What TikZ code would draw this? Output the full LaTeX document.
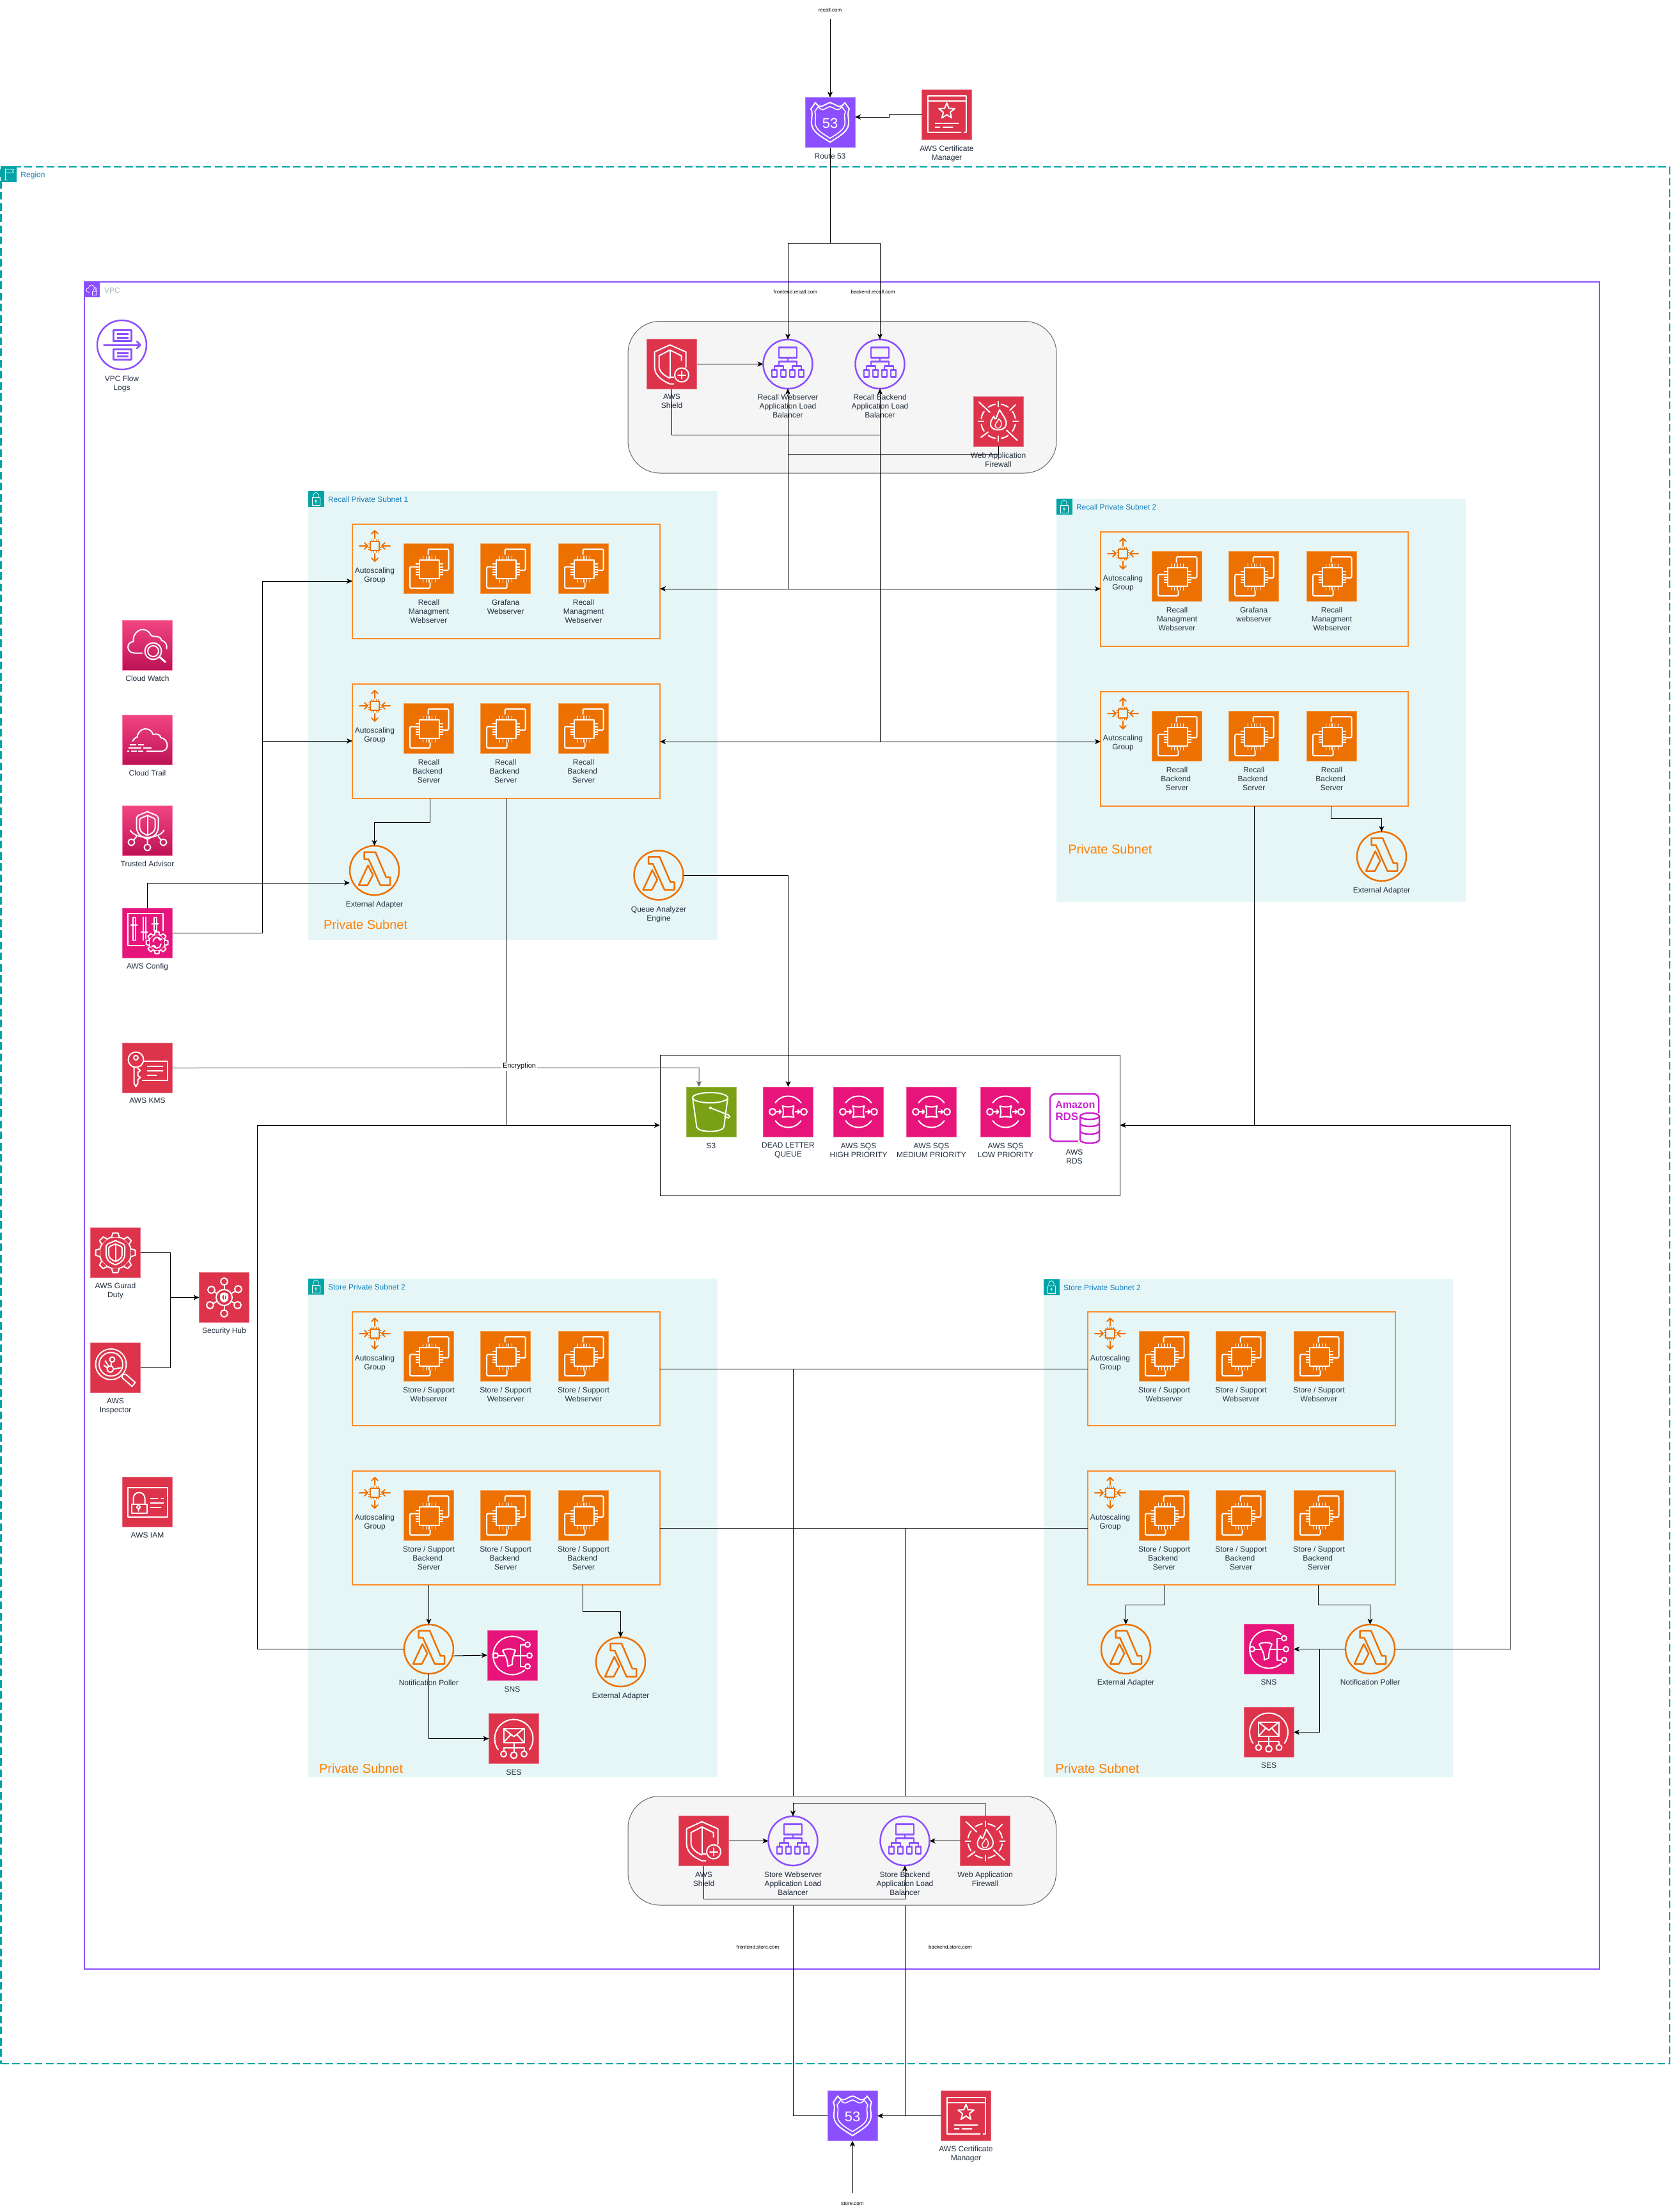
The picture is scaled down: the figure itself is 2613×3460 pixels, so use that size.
\documentclass[tikz,border=0pt]{standalone}
\usepackage{fontspec}
\setmainfont{Liberation Sans}
\usetikzlibrary{arrows.meta,calc}
\definecolor{awsorange}{HTML}{ED7100}
\definecolor{boxorange}{HTML}{FF8C28}
\definecolor{psorange}{HTML}{FF8000}
\definecolor{awspink}{HTML}{E7157B}
\definecolor{awsred}{HTML}{DD344C}
\definecolor{awsgreen}{HTML}{7AA116}
\definecolor{awspurple}{HTML}{8C4FFF}
\definecolor{awsmag}{HTML}{C925D1}
\definecolor{awsteal}{HTML}{00A4A6}
\definecolor{subfill}{HTML}{E6F6F7}
\definecolor{awstext}{HTML}{232F3E}
\definecolor{awsblue}{HTML}{147EBA}
\definecolor{vpcgray}{HTML}{AAB7B8}
\definecolor{gradtop}{HTML}{F34482}
\definecolor{gradbot}{HTML}{BC1356}
\definecolor{greyfill}{HTML}{F5F5F5}
\definecolor{greyline}{HTML}{666666}
\pgfdeclarelayer{cont}\pgfdeclarelayer{low}\pgfdeclarelayer{grey}
\pgfsetlayers{cont,low,grey,main}
\tikzset{
 ic/.style={rectangle,minimum size=39pt,inner sep=0pt,outer sep=0pt,fill=#1,draw=#1!70!white,line width=.5pt},
 icg/.style={rectangle,minimum size=39pt,inner sep=0pt,outer sep=0pt,top color=gradtop,bottom color=gradbot,draw=gradtop!70!white,line width=.5pt},
 rnd/.style={circle,minimum size=38.5pt,inner sep=0pt,outer sep=0pt,draw=#1,line width=1.25pt},
 glyphw/.style={white,line width=1pt,line cap=round,line join=round},
 lbl/.style={font=\fontsize{6}{7}\selectfont,text=awstext,align=center,inner sep=0pt,outer sep=0pt,anchor=north,execute at begin node={\rule{0pt}{4.4pt}}},
 small/.style={font=\fontsize{4}{5}\selectfont,text=black,inner sep=0pt,outer sep=0pt},
 grp/.style={font=\fontsize{6}{7}\selectfont,inner sep=0pt,outer sep=0pt,anchor=west},
 psub/.style={font=\fontsize{10}{12}\selectfont,text=psorange,inner sep=0pt,outer sep=0pt,anchor=west},
 cn/.style={draw=black,line width=.5pt},
 ar/.style={cn,-{Stealth[length=4.5pt,width=4pt,inset=1.2pt]}},
 arg/.style={draw=greyline,line width=.5pt,-{Stealth[length=4.5pt,width=4pt,inset=1.2pt]}},
 tagbox/.style={rectangle,minimum size=12.5pt,inner sep=0pt,outer sep=0pt,fill=#1},
 subn/.style={fill=subfill},
 asgb/.style={draw=boxorange,line width=1pt},
}
\newcommand{\boxn}[6]{\pgfmathsetmacro\bw{(#5-#3)*.5}\pgfmathsetmacro\bh{(#6-#4)*.5}%
 \node[#2,rectangle,minimum width=\bw pt,minimum height=\bh pt,inner sep=0pt,outer sep=0pt] (#1) at ({(#3+#5)/2},{(#4+#6)/2}) {};}
\newcommand{\ico}[4]{\node[#2] (#1) at (#3) {};\begin{scope}[shift={(#1.center)},glyphw]#4\end{scope}}
\newcommand{\lam}[2]{\node[rnd=awsorange] (#1) at (#2) {};\begin{scope}[shift={(#1.center)},awsorange,line width=1.25pt,line join=round]\gLam\end{scope}}
\newcommand{\alb}[2]{\node[rnd=awspurple] (#1) at (#2) {};\begin{scope}[shift={(#1.center)},awspurple,line width=1.25pt,line join=round]\gAlb\end{scope}}
\newcommand{\lbl}[4]{\node[lbl] (#1) at ({#2},{#3-4.4}) {#4};}
\newcommand{\Bk}{Backend\kern1.7pt}
% glyphs
\newcommand{\gEC}{%
 \draw (-15,-13) rectangle (16,16);
 \draw[rounded corners=1pt] (-1,-22)--(-1,-30)--(31,-30)--(31,3)--(22,3);
 \draw[rounded corners=1pt] (-19,-2.5)--(-29.5,-2.5)--(-29.5,31)--(2,31)--(2,23);
 \foreach \t in {-9,-4,.5,5,10}{\draw[line width=.7pt] (\t,-13)--(\t,-19) (\t,16)--(\t,22);}
 \foreach \t in {-7,-2,2,6,10}{\draw[line width=.7pt] (-15,\t)--(-20,\t) (16,\t)--(22,\t);}
}
\newcommand{\gAsg}{%
 \draw[line width=.9pt] (-7,-7) rectangle (7,7);
 \foreach \t in {-5,-2,2,5}{\draw[line width=.5pt] (\t,-7)--(\t,-10) (\t,7)--(\t,10) (-7,\t)--(-10,\t) (7,\t)--(10,\t);}
 \draw (0,-12)--(0,-24) (-5,-19)--(0,-24)--(5,-19);
 \draw (0,12)--(0,24) (-5,19)--(0,24)--(5,19);
 \draw (-24,0)--(-11,0) (-16,-5)--(-11,0)--(-16,5);
 \draw (24,0)--(11,0) (16,-5)--(11,0)--(16,5);
}
\newcommand{\gLam}{%
 \draw (-16,-28.7)--(1.5,-28.7)--(18.4,10.7)--(24.5,10.7)--(24.5,23)--(9.2,23)--(-9.2,-17.7)--(-16,-17.7)--cycle;
 \draw (-10,-8)--(-2.3,7)--(-10.7,23)--(-24.5,23)--cycle;
}
\newcommand{\gAlb}{%
 \draw (-14,-26) rectangle (14,-10);
 \draw (0,-10)--(0,-4) (-14,3)--(-14,-4)--(14,-4)--(14,3);
 \draw (-21,9)--(-21,3)--(-7,3)--(-7,9) (7,9)--(7,3)--(21,3)--(21,9);
 \foreach \t in {-21,-7,7,21}{\draw (\t-4,9) rectangle (\t+4,20);}
}
\newcommand{\shpath}{(0,-1) -- (.85,-.72) -- (1,-.55) -- (1,.1) .. controls (1,.3) and (.96,.42) .. (.85,.55) -- (.8,.62) .. controls (.6,.8) and (.3,.9) .. (0,1) .. controls (-.3,.9) and (-.6,.8) .. (-.8,.62) -- (-.85,.55) .. controls (-.96,.42) and (-1,.3) .. (-1,.1) -- (-1,-.55) -- (-.85,-.72) -- cycle}
\newcommand{\shld}[1]{\begin{scope}[#1]\draw \shpath;\begin{scope}[scale=.72]\draw \shpath;\end{scope}\draw (0,-.72)--(0,.72);\end{scope}}
\newcommand{\gRoute}{%
 \draw (-23,-31) .. controls (-21,-27) and (-15,-23) .. (-11,-26) .. controls (-7,-28) and (-4,-30) .. (0,-31) .. controls (4,-30) and (7,-28) .. (11,-26) .. controls (15,-23) and (21,-27) .. (23,-31) -- (30,-21) .. controls (26,-14) and (30,-4) .. (29,2) .. controls (28,16) and (10,24) .. (0,31) .. controls (-10,24) and (-28,16) .. (-29,2) .. controls (-30,-4) and (-26,-14) .. (-30,-21) -- cycle;
 \begin{scope}[scale=.8]\draw[line width=.8pt] (-23,-31) .. controls (-21,-27) and (-15,-23) .. (-11,-26) .. controls (-7,-28) and (-4,-30) .. (0,-31) .. controls (4,-30) and (7,-28) .. (11,-26) .. controls (15,-23) and (21,-27) .. (23,-31) -- (30,-21) .. controls (26,-14) and (30,-4) .. (29,2) .. controls (28,16) and (10,24) .. (0,31) .. controls (-10,24) and (-28,16) .. (-29,2) .. controls (-30,-4) and (-26,-14) .. (-30,-21) -- cycle;\end{scope}
 \path (0,1) node[text=white,inner sep=0pt,font=\fontsize{11}{12}\selectfont] {53};
}
\newcommand{\gCert}{%
 \draw (22,28)--(-30,28)--(-30,-29)--(30,-29)--(30,28)--(27,28);
 \draw (-30,-21)--(30,-21);
 \draw (0,-18)--(3.3,-9.5)--(12.4,-9)--(5.3,-3.3)--(7.6,5.5)--(0,.5)--(-7.6,5.5)--(-5.3,-3.3)--(-12.4,-9)--(-3.3,-9.5)--cycle;
 \draw (-18,14)--(18,14) (-18,20)--(-11,20) (-6,20)--(9,20);
}
\newcommand{\gShield}{%
 \draw (15,-6)--(15,-13)--(-3,-22)--(-20,-13)--(-20,3) .. controls (-20,12) and (-12,18) .. (-3,22);
 \draw (22,5)--(22,-19)--(-3,-30)--(-27,-19)--(-27,4) .. controls (-27,18) and (-15,26) .. (-3,31) -- (3,31);
 \draw (-3,-22)--(-3,20) -- (3,20);
 \draw[fill=awsred] (15.5,17) circle (11);
 \draw (15.5,11)--(15.5,23) (9.5,17)--(21.5,17);
}
\newcommand{\gWaf}{%
 \foreach \s in {10,55,100,145,190,235,280,325}{\draw (\s:27) arc (\s:\s+25:27);}
 \draw (0,-31)--(0,-23) (0,31)--(0,23) (-31,0)--(-23,0) (31,0)--(23,0);
 \draw (-30,-30)--(-13,-14) (13,14)--(30,30) (27,-26)--(18,-17) (-27,25)--(-16,17);
 \draw (2,-18) .. controls (8,-8) and (14,-2) .. (12,6) .. controls (10,16) and (-10,16) .. (-12,6) .. controls (-13,0) and (-9,-4) .. (-7,-8) .. controls (-6,-3) and (-4,-3) .. (-3,-5) .. controls (-2,-9) and (0,-13) .. (2,-18) -- cycle;
 \draw[line width=.7pt] (1,-4) .. controls (5,0) and (6,4) .. (4,8) .. controls (2,12) and (-4,12) .. (-5,7) .. controls (-5,4) and (-2,2) .. (1,-4);
}
\newcommand{\gCW}{%
 \draw (-8,12)--(-20,12) .. controls (-33,12) and (-34,-5) .. (-22,-6) .. controls (-24,-20) and (-8,-32) .. (3,-20) .. controls (6,-14) and (8,-14) .. (12,-14) .. controls (20,-14) and (22,-10) .. (22,-8) .. controls (28,-6) and (31,-2) .. (30,5);
 \draw (9,9) circle (13) (9,9) circle (8.5);
 \draw[line width=1.5pt] (19,18)--(28,26);
}
\newcommand{\gCT}{%
 \draw (-23,2) .. controls (-20,-3) and (-17,-4) .. (-16,-4) .. controls (-14,-20) and (5,-21) .. (9,-8) .. controls (15,-10) and (20,-8) .. (21,-3) .. controls (32,-2) and (36,16) .. (23,18) -- (-1,18);
 \draw[line width=.8pt] (-27,8)--(-18,8) (-14,8)--(-6,8) (-29,13)--(-10,13) (-6,13)--(6,13) (-31,18)--(-29,18) (-25,18)--(-17,18) (-14,18)--(-7,18);
}
\newcommand{\gTA}{%
 \shld{shift={(0,-8.5)},xscale=17,yscale=21.5}
 \draw (-27,-1) .. controls (-18,14) and (18,14) .. (26,-1);
 \draw (-25,18) circle (5) (0,26) circle (5) (25,18) circle (5);
 \draw (0,12)--(0,21) (-17,9)--(-21,14) (17,9)--(21,14);
}
\newcommand{\gCfg}{%
 \draw (24,-4)--(24,-31)--(-31,-31)--(-31,19)--(-5,19);
 \draw (-23,-25)--(-23,11)--(-19,11)--(-19,-25)--cycle;
 \draw (-7,-25)--(-7,11) (-3,-25)--(-3,9);
 \draw (10,-25)--(10,-4)--(14,-4)--(14,-25)--cycle;
 \draw (-26,-13)--(-16,-13) (-10,-2)--(0,-2) (7,-15)--(17,-15);
 \begin{scope}[shift={(15,15)}]
 \draw (0,0) circle (13);
 \foreach \a in {0,45,...,315}{\begin{scope}[rotate=\a]\draw[fill=awspink] (-4,-12.5)--(-3,-17)--(3,-17)--(4,-12.5);\end{scope}}
 \draw (-6,-2) arc (180:320:6.3) (6,2) arc (0:140:6.3);
 \draw (2,-7)--(5,-4)--(8,-6) (-2,7)--(-5,4)--(-8,6);
 \end{scope}
}
\newcommand{\gKMS}{%
 \draw (-18,-13) circle (12) (-18,-16) circle (3.5);
 \draw (-21,-1)--(-21,24)--(-18,29)--(-15,24)--(-15,18)--(-11,15)--(-15,12)--(-15,7)--(-11,4)--(-15,1);
 \draw (-6,-11)--(31,-11)--(31,19)--(-8,19);
 \draw (0,-3)--(24,-3) (0,4)--(24,4) (0,11)--(14,11);
}
\newcommand{\gGD}{%
 \draw (0,0) circle (25);
 \foreach \a in {0,45,...,315}{\begin{scope}[rotate=\a]\draw[fill=awsred] (-6,-24.5)--(-4,-31)--(4,-31)--(6,-24.5);\end{scope}}
 \shld{shift={(0,0)},xscale=14.5,yscale=19}
}
\newcommand{\gInsp}{%
 \draw (-7,-5.5) circle (24) (-7,-5.5) circle (18.5);
 \draw[line width=1pt] (10,11)--(11,16)--(26,29)--(31,23)--(16,10)--cycle;
 \draw (-5,-13) circle (4) (-8,2) circle (5);
 \draw (-6,-9)--(-7,-3) (-3,2)--(8,0) (-13,0)--(-18,-4) (-11,-3)--(-16,-11);
}
\newcommand{\gHub}{%
 \draw (0,0) circle (12.5);
 \shld{shift={(0,0)},xscale=5.5,yscale=7}
 \foreach \x/\y/\u/\v in {0/-25/0/-12.5,-20/-12/-11/-6,22/-13/11/-6,-22/12/-11/6,21/12/11/6,0/25/0/12.5}{\draw (\x,\y) circle (5.5);\draw (\u,\v)--({\x+(\u-\x)*.45},{\y+(\v-\y)*.45});}
}
\newcommand{\gIAM}{%
 \draw (-31,-23) rectangle (31,23);
 \draw (-25,3) rectangle (-1,17);
 \draw (-22,3)--(-22,-6) arc (180:360:9)--(-4,3);
 \draw (-14,8) circle (2.5) (-14,10.5)--(-14,14);
 \draw (5,-6)--(16,-6) (22,-6)--(25,-6) (5,1)--(25,1) (5,8)--(21,8);
}
\newcommand{\gS}{%
 \draw (-1.5,-22) ellipse (27.5 and 8);
 \draw (-29,-22)--(-22.5,24) .. controls (-20,33) and (17,33) .. (20,24) -- (26,-22);
 \draw (-1,-6)--(27,5) .. controls (31,8) and (28,11) .. (24,9) -- (21,7);
 \draw[fill=white] (-1,-6) circle (1.5);
}
\newcommand{\gSQS}{%
 \draw (215:24.5) arc (215:325:24.5) (35:24.5) arc (35:145:24.5);
 \draw (-24.5,0) circle (5) (24.5,0) circle (5);
 \draw (-9,-9) .. controls (-3,-7) and (3,-7) .. (9,-9) .. controls (7,-3) and (7,3) .. (9,9) .. controls (3,7) and (-3,7) .. (-9,9) .. controls (-7,3) and (-7,-3) .. (-9,-9) -- cycle;
 \draw (-18,0)--(-11,0) (-14,-3)--(-11,0)--(-14,3) (11,0)--(18,0) (15,-3)--(18,0)--(15,3);
}
\newcommand{\gSNS}{%
 \draw (-51:30) arc (-51:-310:30);
 \draw[fill=awspink] (-26,0) circle (4);
 \draw (-22,0)--(-13,0);
 \draw (-15,-8) .. controls (-10,-11) and (0,-11) .. (5,-8) .. controls (3,-2) and (0,2) .. (0,14) -- (-7,17) .. controls (-7,4) and (-12,0) .. (-15,-8) -- cycle;
 \draw (3,0)--(23,0) (19,-17)--(13,-17)--(13,17)--(19,17);
 \draw[fill=awspink] (24,-17) circle (4) (27,0) circle (4) (24,17) circle (4);
}
\newcommand{\gSES}{%
 \draw (145:30) arc (145:395:30);
 \draw (-16,-16) rectangle (16,6);
 \draw (-16,-16)--(0,-3)--(16,-16) (-16,6)--(-5,-6) (16,6)--(5,-6);
 \draw (0,6)--(0,21) (-16,19)--(-16,14)--(16,14)--(16,19);
 \draw (-16,24) circle (4.5) (0,26) circle (5) (16,24) circle (4.5);
}
\newcommand{\gFlow}{%
 \draw (-13,-23) rectangle (15,-6);
 \draw (-13,7) rectangle (15,23);
 \draw (-8,-17)--(10,-17) (-8,-11)--(10,-11) (-8,13)--(10,13) (-8,18)--(10,18);
 \draw (-29,0)--(29,0) (23,-6)--(29,0)--(23,6);
}
\newcommand{\gLock}{\begin{scope}[white,line width=.35pt]\draw (-6,-2) rectangle (6,10);\draw (-4,-2)--(-4,-6) arc (180:360:4)--(4,-2);\draw (0,3) circle (1.3) (0,4.3)--(0,7);\end{scope}}
\newcommand{\asg}[8]{%
 % name x1 y1 x2 y2 lab1 lab2 lab3
 \begin{pgfonlayer}{cont}\boxn{#1}{asgb}{#2}{#3}{#4}{#5}\end{pgfonlayer}
 \coordinate (#1-g) at ($(#2,#3)+(35,34)$);
 \begin{scope}[shift={(#1-g)},awsorange,line width=1pt,line cap=round,line join=round]\gAsg\end{scope}
 \node[lbl] (#1-gl) at ($(#2,#3)+(35,67.3)$) {Autoscaling\\Group};
 \ico{#1-a}{ic=awsorange}{$(#2,#3)+(119.5,69)$}{\gEC}
 \ico{#1-b}{ic=awsorange}{$(#2,#3)+(239.7,69)$}{\gEC}
 \ico{#1-c}{ic=awsorange}{$(#2,#3)+(361.5,69)$}{\gEC}
 \node[lbl] (#1-al) at ($(#2,#3)+(119.5,117.5)$) {#6};
 \node[lbl] (#1-bl) at ($(#2,#3)+(239.7,117.5)$) {#7};
 \node[lbl] (#1-cl) at ($(#2,#3)+(361.5,117.5)$) {#8};
}
\newcommand{\subnet}[7]{%
 % name x1 y1 x2 y2 title
 \begin{pgfonlayer}{cont}\boxn{#1}{subn}{#2}{#3}{#4}{#5}
 \node[tagbox=awsteal,anchor=north west] (#1-t) at (#1.north west) {};
 \begin{scope}[shift={(#1-t.center)}]\gLock\end{scope}
 \node[grp,text=awsblue] (#1-tt) at ($(#1.north west)+(31.5,13.5)$) {#6};
 \node[psub] (#1-ps) at #7 {Private Subnet};
 \end{pgfonlayer}
}
\begin{document}
\begin{tikzpicture}[x=.5pt,y=-.5pt]
\useasboundingbox (0,0) rectangle (2613,3460);
\begin{pgfonlayer}{cont}
\fill[white] (0,0) rectangle (2613,3460);
\boxn{region}{draw=awsteal,line width=1.3pt,dash pattern=on 6pt off 2.75pt}{1.5}{261}{2611}{3228}
\node[tagbox=awsteal,anchor=north west] (region-t) at (1,260) {};
\begin{scope}[shift={(region-t.center)},white,line width=.35pt]\draw (-5,-9)--(-5,9) (-8,9)--(-2,9) (-5,-8)--(8,-8)--(6,-5)--(8,-2)--(-5,-2);\end{scope}
\node[grp,text=awsblue] (region-tt) at (32.5,274) {Region};
\boxn{vpc}{draw=awspurple,line width=1pt}{131.5}{440.5}{2501}{3080}
\node[tagbox=awspurple,anchor=north west] (vpc-t) at (131,440) {};
\begin{scope}[shift={(vpc-t.center)},white,line width=.35pt]\draw (-4,5) .. controls (-10,5) and (-10,-2) .. (-5,-2) .. controls (-5,-8) and (3,-8) .. (4,-3) .. controls (8,-3) and (9,0) .. (8,2);\draw (1,3) rectangle (8,9);\draw (2.5,3)--(2.5,1) arc (180:360:2)--(6.5,3);\end{scope}
\node[grp,text=vpcgray] (vpc-tt) at (163,454) {VPC};
\boxn{grey1}{fill=greyfill,draw=greyline,line width=.5pt,rounded corners=25pt}{982}{502.5}{1652}{740}
\end{pgfonlayer}
\begin{pgfonlayer}{grey}
\boxn{grey2}{fill=greyfill,draw=greyline,line width=.5pt,rounded corners=25pt}{982}{2809.5}{1651.5}{2980}
\end{pgfonlayer}
\subnet{sr1}{481.5}{768}{1121.5}{1470}{Recall Private Subnet 1}{(506,1446)}
\subnet{sr2}{1651.5}{780}{2291.5}{1410.5}{Recall Private Subnet 2}{(1670.3,1328)}
\subnet{ss1}{481.5}{2000}{1121.5}{2780}{Store Private Subnet 2}{(499,2766)}
\subnet{ss2}{1631.5}{2001}{2271.5}{2780}{Store Private Subnet 2}{(1650.3,2766)}
\asg{r1a}{551}{820}{1032}{999}{Recall\\Managment\\Webserver}{Grafana\\Webserver}{Recall\\Managment\\Webserver}
\asg{r1b}{551}{1070}{1032}{1249}{Recall\\\Bk\\Server}{Recall\\\Bk\\Server}{Recall\\\Bk\\Server}
\asg{r2a}{1721}{832}{2202}{1011}{Recall\\Managment\\Webserver}{Grafana\\webserver}{Recall\\Managment\\Webserver}
\asg{r2b}{1721}{1082}{2202}{1261}{Recall\\\Bk\\Server}{Recall\\\Bk\\Server}{Recall\\\Bk\\Server}
\asg{s1a}{551}{2052}{1032}{2230}{Store / Support\\Webserver}{Store / Support\\Webserver}{Store / Support\\Webserver}
\asg{s1b}{551}{2301}{1032}{2479}{Store / Support\\\Bk\\Server}{Store / Support\\\Bk\\Server}{Store / Support\\\Bk\\Server}
\asg{s2a}{1701}{2052}{2182}{2230}{Store / Support\\Webserver}{Store / Support\\Webserver}{Store / Support\\Webserver}
\asg{s2b}{1701}{2301}{2182}{2479}{Store / Support\\\Bk\\Server}{Store / Support\\\Bk\\Server}{Store / Support\\\Bk\\Server}
% top
\node[small] (recall) at (1298,16) {recall.com};
\coordinate (recalle) at (1298,30);
\ico{r53a}{ic=awspurple}{1298,191.5}{\gRoute}
\lbl{r53al}{1298}{244}{Route 53}
\ico{certa}{ic=awsred}{1480.5,179}{\gCert}
\lbl{certal}{1480.5}{232}{AWS Certificate\\Manager}
\node[small] (frec) at (1244,456.5) {frontend.recall.com};
\node[small] (brec) at (1365,456.5) {backend.recall.com};
\ico{shda}{ic=awsred}{1050.5,569.5}{\gShield}
\lbl{shdal}{1050.5}{621}{AWS\\Shield}
\alb{albr1}{1232,569.5}
\lbl{albr1l}{1232}{621}{Recall Webserver\\Application Load\\Balancer}
\alb{albr2}{1376,569.5}
\lbl{albr2l}{1376}{621}{Recall Backend\\Application Load\\Balancer}
\ico{wafa}{ic=awsred}{1561,659}{\gWaf}
\lbl{wafal}{1561}{712}{Web Application\\Firewall}
\node[rnd=awspurple] (flow) at (190.5,539.5) {};
\begin{scope}[shift={(flow.center)},awspurple,line width=1.25pt,line join=round]\gFlow\end{scope}
\lbl{flowl}{190.5}{592}{VPC Flow\\Logs}
% left column
\ico{cw}{icg}{230.5,1009.5}{\gCW}
\lbl{cwl}{230.5}{1061}{Cloud Watch}
\ico{ct}{icg}{230.5,1157}{\gCT}
\lbl{ctl}{230.5}{1209.5}{Cloud Trail}
\ico{ta}{icg}{230.5,1299.5}{\gTA}
\lbl{tal}{230.5}{1351.5}{Trusted Advisor}
\ico{cfg}{ic=awspink}{230.5,1459.5}{\gCfg}
\lbl{cfgl}{230.5}{1511}{AWS Config}
\ico{kms}{ic=awsred}{230.5,1670.5}{\gKMS}
\lbl{kmsl}{230.5}{1721}{AWS KMS}
\ico{gd}{ic=awsred}{180.5,1959.5}{\gGD}
\lbl{gdl}{180.5}{2011.5}{AWS Gurad\\Duty}
\ico{insp}{ic=awsred}{180.5,2139.5}{\gInsp}
\lbl{inspl}{180.5}{2191.5}{AWS\\Inspector}
\ico{hub}{ic=awsred}{350.5,2029.5}{\gHub}
\lbl{hubl}{350.5}{2081.5}{Security Hub}
\ico{iam}{ic=awsred}{230.5,2349.5}{\gIAM}
\lbl{iaml}{230.5}{2401}{AWS IAM}
% lambdas recall
\lam{ext1}{585.5,1361.5}
\lbl{ext1l}{585.5}{1414}{External Adapter}
\lam{qa}{1030,1369}
\lbl{qal}{1030}{1421.7}{Queue Analyzer\\Engine}
\lam{ext2}{2160.5,1339.5}
\lbl{ext2l}{2160.5}{1392}{External Adapter}
% data
\begin{pgfonlayer}{cont}\boxn{data}{draw=black,line width=.5pt}{1032}{1650}{1751.5}{1870}\end{pgfonlayer}
\ico{s3}{ic=awsgreen}{1112,1739}{\gS}
\lbl{s3l}{1112}{1792}{S3}
\ico{dlq}{ic=awspink}{1232.5,1739}{\gSQS}
\lbl{dlql}{1232.5}{1792}{DEAD LETTER\\QUEUE}
\ico{sqh}{ic=awspink}{1342.5,1739}{\gSQS}
\lbl{sqhl}{1342.5}{1792}{AWS SQS\\HIGH PRIORITY}
\ico{sqm}{ic=awspink}{1456.5,1739}{\gSQS}
\lbl{sqml}{1456.5}{1792}{AWS SQS\\MEDIUM PRIORITY}
\ico{sql}{ic=awspink}{1572.5,1739}{\gSQS}
\lbl{sqll}{1572.5}{1792}{AWS SQS\\LOW PRIORITY}
\node[rectangle,minimum size=39pt,inner sep=0pt,outer sep=0pt] (rds) at (1680,1749) {};
\begin{scope}[shift={(rds.center)},awsmag,line width=1.25pt,line join=round]
 \draw[rounded corners=4pt] (6,36)--(-38,36)--(-38,-38)--(38,-38)--(38,-8);
 \node[anchor=west,inner sep=0pt,text=awsmag,font=\fontsize{8}{9}\selectfont\bfseries] (rdst1) at (-31,-21) {Amazon};
 \node[anchor=west,inner sep=0pt,text=awsmag,font=\fontsize{8.5}{9}\selectfont\bfseries] (rdst2) at (-31,-2) {RDS};
 \draw (9,-3) arc (180:360:15 and 5) -- (39,34) arc (0:180:15 and 5) -- cycle;
 \draw (9,-3) arc (180:0:15 and 5);
 \draw (9,8) arc (180:0:15 and 5) (9,20) arc (180:0:15 and 5);
\end{scope}
\lbl{rdsl}{1680}{1802}{AWS\\RDS}
% store left
\lam{p1}{670.5,2579.5}
\lbl{p1l}{670.5}{2631.7}{Notification Poller}
\ico{sns1}{ic=awspink}{801,2589.5}{\gSNS}
\lbl{sns1l}{801}{2641.7}{SNS}
\ico{ses1}{ic=awsred}{803.5,2719.5}{\gSES}
\lbl{ses1l}{803.5}{2771.7}{SES}
\lam{ext3}{970.5,2599.5}
\lbl{ext3l}{970.5}{2651.7}{External Adapter}
% store right
\lam{ext4}{1760.5,2579.5}
\lbl{ext4l}{1760.5}{2631}{External Adapter}
\ico{sns2}{ic=awspink}{1984,2579.5}{\gSNS}
\lbl{sns2l}{1984}{2631}{SNS}
\ico{ses2}{ic=awsred}{1984,2709.5}{\gSES}
\lbl{ses2l}{1984}{2761.5}{SES}
\lam{p2}{2142.5,2579.5}
\lbl{p2l}{2142.5}{2631}{Notification Poller}
% store bottom
\ico{shdb}{ic=awsred}{1100.5,2879.5}{\gShield}
\lbl{shdbl}{1100.5}{2932}{AWS\\Shield}
\alb{albs1}{1240,2879.5}
\lbl{albs1l}{1240}{2932}{Store Webserver\\Application Load\\Balancer}
\alb{albs2}{1415,2879.5}
\lbl{albs2l}{1415}{2932}{Store Backend\\Application Load\\Balancer}
\ico{wafb}{ic=awsred}{1540.5,2879.5}{\gWaf}
\lbl{wafbl}{1540.5}{2932}{Web Application\\Firewall}
\node[small] (fsto) at (1185,3046) {frontend.store.com};
\node[small] (bsto) at (1486,3046) {backend.store.com};
\ico{r53b}{ic=awspurple}{1333,3309.5}{\gRoute}
\ico{certb}{ic=awsred}{1510.5,3309.5}{\gCert}
\lbl{certbl}{1510.5}{3361.5}{AWS Certificate\\Manager}
\node[small] (store) at (1333,3446.5) {store.com};
\coordinate (storee) at (1333,3430);
% connectors
\draw[ar] (recalle) -- (r53a.north);
\coordinate (ja) at (1390,183);
\draw[ar] (certa.west) -| (ja) -- (r53a.east |- ja);
\coordinate (jr) at (1298,380);
\draw[cn] (r53a.south) -- (jr);
\draw[ar] (jr) -| (albr1.north);
\draw[ar] (jr) -| (albr2.north);
\draw[ar] (shda.east) -- (albr1.west);
\coordinate (jsa) at (1376,680);
\draw[ar] (shda.south) |- (jsa) -- (albr2.south);
\coordinate (jwa) at (1232,710);
\draw[ar] (wafa.south) |- (jwa) -- (albr1.south);
\coordinate (j1) at (1232,921);
\coordinate (j2) at (1376,1160);
\draw[cn] (albr1.south) -- (j1);
\draw[cn] (albr2.south) -- (j2);
\draw[ar] (j1) -- (j1 -| r1a.east);
\draw[ar] (j1) -- (j1 -| r2a.west);
\draw[ar] (j2) -- (j2 -| r1b.east);
\draw[ar] (j2) -- (j2 -| r2b.west);
\coordinate (jc1) at (410,909);
\coordinate (jc2) at (410,1159);
\coordinate (jc3) at (547,1381);
\draw[ar] (cfg.east) -| (jc1) -- (jc1 -| r1a.west);
\draw[ar] (jc2) -- (jc2 -| r1b.west);
\draw[ar] (cfg.north) |- (jc3);
\coordinate (je1) at (672,1286);
\draw[ar] (r1b.south -| je1) -- (je1) -| (ext1.north);
\coordinate (je2) at (2081.5,1280.5);
\draw[ar] (r2b.south -| je2) -- (je2) -| (ext2.north);
\coordinate (jd1) at (791.5,1760);
\coordinate (jd2) at (402,1760);
\coordinate (jd3) at (1961.5,1760);
\coordinate (jd4) at (2362,1760);
\draw[cn] (r1b.south -| jd1) -- (jd1);
\draw[ar] (p1.west) -| (jd2) -- (data.west |- jd2);
\draw[cn] (r2b.south -| jd3) -- (jd3);
\draw[ar] (p2.east) -| (jd4) -- (data.east |- jd4);
\draw[ar] (qa.east) -| (dlq.north);
\coordinate (jk) at (1093,1670);
\draw[arg] (kms.east) -- (jk) -- (s3.north -| jk);
\node[inner sep=1pt,outer sep=0pt,fill=white,text=black,font=\fontsize{5.5}{6}\selectfont] (enc) at (812,1668) {Encryption};
\coordinate (jg) at (266,2029.5);
\draw[cn] (gd.east) -| (jg);
\draw[cn] (insp.east) -| (jg);
\draw[ar] (jg) -- (hub.west);
% store connectors
\coordinate (js1) at (1240,2141);
\coordinate (js2) at (1415,2390.5);
\draw[cn] (s1a.east |- js1) -- (s2a.west |- js1);
\draw[cn] (s1b.east |- js2) -- (s2b.west |- js2);
\begin{pgfonlayer}{low}
\draw[cn] (js1) -- (albs1.north);
\draw[cn] (js2) -- (albs2.north);
\draw[cn] (r53b.west) -| (albs1.south);
\coordinate (jb2) at (1415,3309.5);
\draw[cn] (jb2) -- (albs2.south);
\end{pgfonlayer}
\draw[ar] (s1b.south -| p1) -- (p1.north);
\coordinate (jx1) at (911.5,2520.5);
\draw[ar] (s1b.south -| jx1) -- (jx1) -| (ext3.north);
\coordinate (jn1) at (709.5,2590);
\coordinate (jn2) at (762,2589);
\draw[ar] (jn1) -- (jn2);
\draw[ar] (p1.south) |- (ses1.west);
\coordinate (jx2) at (1821.5,2510.5);
\draw[ar] (s2b.south -| jx2) -- (jx2) -| (ext4.north);
\coordinate (jx3) at (2061.5,2510.5);
\draw[ar] (s2b.south -| jx3) -- (jx3) -| (p2.north);
\draw[ar] (p2.west) -- (sns2.east);
\coordinate (jm) at (2063.5,2579.5);
\draw[ar] (jm) |- (ses2.east);
% bottom block
\draw[ar] (shdb.east) -- (albs1.west);
\draw[ar] (wafb.west) -- (albs2.east);
\coordinate (jw) at (1240,2820);
\draw[ar] (wafb.north) |- (jw) -- (albs1.north);
\coordinate (jsb) at (1415,2970);
\draw[ar] (shdb.south) |- (jsb) -- (albs2.south);
\draw[ar] (certb.west) -- (r53b.east);
\draw[ar] (storee) -- (r53b.south);
\end{tikzpicture}
\end{document}
